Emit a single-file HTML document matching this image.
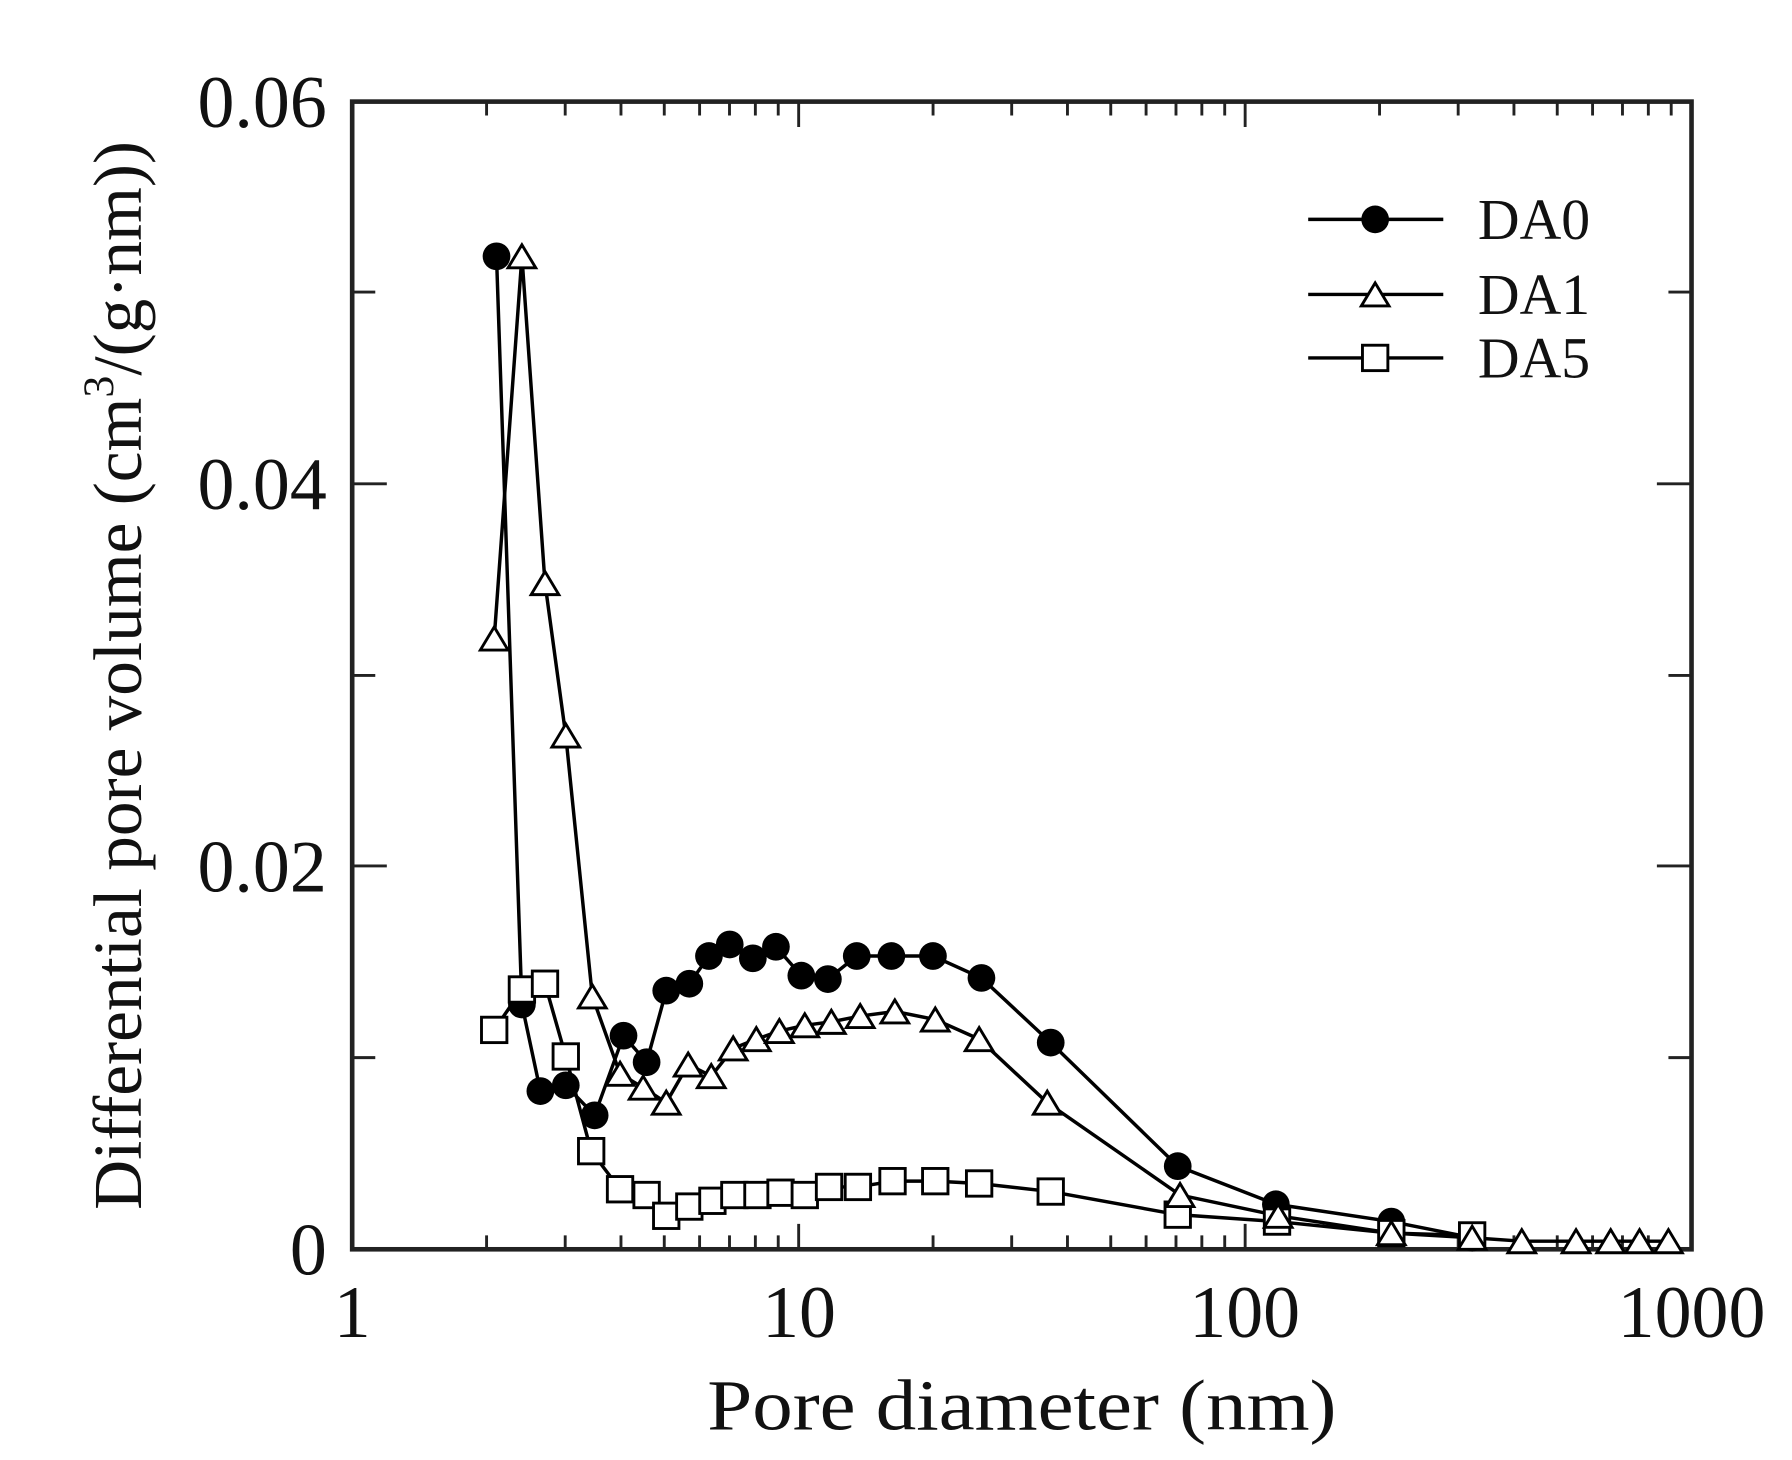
<!DOCTYPE html>
<html><head><meta charset="utf-8"><style>html,body{margin:0;padding:0;background:#fff}svg{display:block}</style></head>
<body>
<svg width="1792" height="1460" viewBox="0 0 1552 1264.5" xmlns="http://www.w3.org/2000/svg" font-family="Liberation Serif, serif">
<rect width="1552" height="1264.5" fill="#fff"/>
<g stroke="#222" stroke-width="2.5" fill="none">
<rect x="305" y="88" width="1160" height="994" stroke-width="4"/>
<path d="M305 253h20M305 419h30M305 585h20M305 750h30M305 916h20M1465 253h-20M1465 419h-30M1465 585h-20M1465 750h-30M1465 916h-20"/>
<path d="M421.4 1082v-12M489.5 1082v-12M537.8 1082v-12M575.3 1082v-12M605.9 1082v-12M631.8 1082v-12M654.2 1082v-12M674.0 1082v-12M691.7 1082v-22
M808.1 1082v-12M876.2 1082v-12M924.5 1082v-12M962.0 1082v-12M992.6 1082v-12M1018.5 1082v-12M1040.9 1082v-12M1060.7 1082v-12M1078.4 1082v-22
M1194.8 1082v-12M1262.9 1082v-12M1311.2 1082v-12M1348.7 1082v-12M1379.3 1082v-12M1405.2 1082v-12M1427.6 1082v-12M1447.4 1082v-12"/>
<path d="M421.4 88v12M489.5 88v12M537.8 88v12M575.3 88v12M605.9 88v12M631.8 88v12M654.2 88v12M674.0 88v12M691.7 88v22
M808.1 88v12M876.2 88v12M924.5 88v12M962.0 88v12M992.6 88v12M1018.5 88v12M1040.9 88v12M1060.7 88v12M1078.4 88v22
M1194.8 88v12M1262.9 88v12M1311.2 88v12M1348.7 88v12M1379.3 88v12M1405.2 88v12M1427.6 88v12M1447.4 88v12"/>
</g>
<g stroke="#000" stroke-width="3" fill="none">
<polyline points="430,222 452,870 468,945 490,940 515,966 540,897 560,920 577,858 597,852 614,828 632,818 652,830 672,820 694,845 717,848 742,828 772,828 808,828 850,847 910,903 1020,1010 1105,1043 1205,1058 1275,1072"/>
<polyline points="428,553 452,222 472,505 490,637 513,863 537,930 557,942 577,955 596,922 616,932 635,908 655,900 675,893 697,888 720,885 745,880 775,876 810,883 848,900 907,955 1022,1035 1107,1053 1205,1068 1275,1072 1318,1075 1365,1075 1395,1075 1420,1075 1445,1075"/>
<polyline points="428,892 452,857 472,852 490,915 512,997 537,1030 560,1035 577,1053 597,1045 617,1040 636,1035 656,1035 676,1033 697,1035 718,1028 743,1028 773,1023 810,1023 848,1025 910,1032 1020,1052 1106,1058 1205,1068 1275,1070"/>
<path d="M1133 190h117M1133 255h117M1133 310h117"/>
</g>
<g fill="#000">
<circle cx="430" cy="222" r="12"/><circle cx="452" cy="870" r="12"/><circle cx="468" cy="945" r="12"/><circle cx="490" cy="940" r="12"/><circle cx="515" cy="966" r="12"/><circle cx="540" cy="897" r="12"/><circle cx="560" cy="920" r="12"/><circle cx="577" cy="858" r="12"/><circle cx="597" cy="852" r="12"/><circle cx="614" cy="828" r="12"/><circle cx="632" cy="818" r="12"/><circle cx="652" cy="830" r="12"/><circle cx="672" cy="820" r="12"/><circle cx="694" cy="845" r="12"/><circle cx="717" cy="848" r="12"/><circle cx="742" cy="828" r="12"/><circle cx="772" cy="828" r="12"/><circle cx="808" cy="828" r="12"/><circle cx="850" cy="847" r="12"/><circle cx="910" cy="903" r="12"/><circle cx="1020" cy="1010" r="12"/><circle cx="1105" cy="1043" r="12"/><circle cx="1205" cy="1058" r="12"/><circle cx="1275" cy="1072" r="12"/>
<circle cx="1191" cy="190" r="12"/>
</g>
<g fill="#fff" stroke="#000" stroke-width="2.5">
<rect x="417" y="881" width="22" height="22"/><rect x="441" y="846" width="22" height="22"/><rect x="461" y="841" width="22" height="22"/><rect x="479" y="904" width="22" height="22"/><rect x="501" y="986" width="22" height="22"/><rect x="526" y="1019" width="22" height="22"/><rect x="549" y="1024" width="22" height="22"/><rect x="566" y="1042" width="22" height="22"/><rect x="586" y="1034" width="22" height="22"/><rect x="606" y="1029" width="22" height="22"/><rect x="625" y="1024" width="22" height="22"/><rect x="645" y="1024" width="22" height="22"/><rect x="665" y="1022" width="22" height="22"/><rect x="686" y="1024" width="22" height="22"/><rect x="707" y="1017" width="22" height="22"/><rect x="732" y="1017" width="22" height="22"/><rect x="762" y="1012" width="22" height="22"/><rect x="799" y="1012" width="22" height="22"/><rect x="837" y="1014" width="22" height="22"/><rect x="899" y="1021" width="22" height="22"/><rect x="1009" y="1041" width="22" height="22"/><rect x="1095" y="1047" width="22" height="22"/><rect x="1194" y="1057" width="22" height="22"/><rect x="1264" y="1059" width="22" height="22"/>
<rect x="1180" y="299" width="22" height="22"/>
</g>
<g fill="#fff" stroke="#000" stroke-width="2.5">
<path d="M428 543l-12 20h24zM452 212l-12 20h24zM472 495l-12 20h24zM490 627l-12 20h24zM513 853l-12 20h24zM537 920l-12 20h24zM557 932l-12 20h24zM577 945l-12 20h24zM596 912l-12 20h24zM616 922l-12 20h24zM635 898l-12 20h24zM655 890l-12 20h24zM675 883l-12 20h24zM697 878l-12 20h24zM720 875l-12 20h24zM745 870l-12 20h24zM775 866l-12 20h24zM810 873l-12 20h24zM848 890l-12 20h24zM907 945l-12 20h24zM1022 1025l-12 20h24zM1107 1043l-12 20h24zM1205 1058l-12 20h24zM1275 1062l-12 20h24zM1318 1065l-12 20h24zM1365 1065l-12 20h24zM1395 1065l-12 20h24zM1420 1065l-12 20h24zM1445 1065l-12 20h24z"/>
<path d="M1191 245l-12 20h24z"/>
</g>
<g font-size="64" fill="#111">
<text x="283" y="110" text-anchor="end">0.06</text>
<text x="283" y="441" text-anchor="end">0.04</text>
<text x="283" y="772" text-anchor="end">0.02</text>
<text x="283" y="1104" text-anchor="end">0</text>
<text x="305" y="1158" text-anchor="middle">1</text>
<text x="692" y="1158" text-anchor="middle">10</text>
<text x="1078" y="1158" text-anchor="middle">100</text>
<text x="1465" y="1158" text-anchor="middle">1000</text>
</g>
<g font-size="50" fill="#111">
<text x="1280" y="207">DA0</text>
<text x="1280" y="272">DA1</text>
<text x="1280" y="327">DA5</text>
</g>
<text x="885" y="1238" font-size="62" text-anchor="middle" textLength="545" lengthAdjust="spacingAndGlyphs" fill="#111">Pore diameter (nm)</text>
<text transform="translate(122,585) rotate(-90)" font-size="60" text-anchor="middle" fill="#111">Differential pore volume (cm<tspan font-size="38" dy="-24">3</tspan><tspan dy="24">/(g·nm))</tspan></text>
</svg>
</body></html>
